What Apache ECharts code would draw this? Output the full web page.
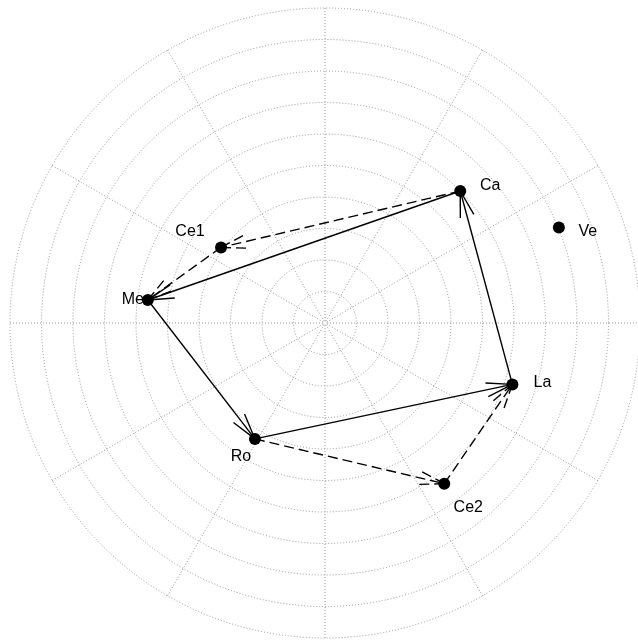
<!DOCTYPE html>
<html>
<head>
<meta charset="utf-8">
<title>Route map</title>
<script src="https://cdn.jsdelivr.net/npm/echarts/dist/echarts.min.js"></script>
<style>
  html, body { margin: 0; padding: 0; background: #ffffff; }
  #chart { width: 638px; height: 640px; }
</style>
</head>
<body>
<div id="chart"></div>
<script>
// Places and their positions (grid units, one unit per ring)
const places = ['Ca', 'Ve', 'Ce1', 'Me', 'La', 'Ro', 'Ce2'];
const xValues = [4.34, 7.48, -3.28, -5.61, 6.00, -2.20, 3.83];
const yValues = [4.19, 3.03, 2.40, 0.73, -1.95, -3.68, -5.10];

// Legs of the tour: solid main loop, dashed detours
const solidLegs = [['Me', 'Ro'], ['Ro', 'La'], ['La', 'Ca'], ['Ca', 'Me']];
const dashedLegs = [['Ca', 'Ce1'], ['Ce1', 'Me'], ['Ro', 'Ce2'], ['Ce2', 'La']];

// Polar grid: rings and spokes
const ringCount = 10;
const spokeStep = 30;

// Label placement around each dot (px from the dot centre)
const labelOffsets = {
  Ca: [30, -5], Ve: [29, 4], Ce1: [-31, -16], Me: [-15, 0],
  La: [30, -2], Ro: [-14, 18], Ce2: [24, 24]
};

const HEAD_LEN = 27;
const HEAD_ANGLE = 15 * Math.PI / 180;

function pointOf(name) {
  const i = places.indexOf(name);
  return [xValues[i], yValues[i]];
}

const legRows = []
  .concat(solidLegs.map(l => pointOf(l[0]).concat(pointOf(l[1]), [0])))
  .concat(dashedLegs.map(l => pointOf(l[0]).concat(pointOf(l[1]), [1])));

// Straight leg with an open two-barb head at the destination
function renderArrow(params, api) {
  const a = api.coord([api.value(0), api.value(1)]);
  const b = api.coord([api.value(2), api.value(3)]);
  const dashed = api.value(4) === 1;
  const ang = Math.atan2(a[1] - b[1], a[0] - b[0]);
  const style = {
    stroke: '#000',
    fill: null,
    lineWidth: 1.4,
    lineDash: dashed ? [10, 5] : null
  };
  const barb = s => ({
    type: 'line',
    shape: {
      x1: b[0], y1: b[1],
      x2: b[0] + HEAD_LEN * Math.cos(ang + s * HEAD_ANGLE),
      y2: b[1] + HEAD_LEN * Math.sin(ang + s * HEAD_ANGLE)
    },
    style: style
  });
  return {
    type: 'group',
    children: [
      { type: 'line', shape: { x1: a[0], y1: a[1], x2: b[0], y2: b[1] }, style: style },
      barb(1),
      barb(-1)
    ]
  };
}

const gridLine = { color: '#9a9a9a', width: 1, type: [1, 2] };

const chart = echarts.init(document.getElementById('chart'), null, { renderer: 'canvas' });
chart.setOption({
  backgroundColor: '#ffffff',
  animation: false,
  polar: { center: [325, 323], radius: 315 },
  angleAxis: {
    type: 'value', min: 0, max: 360, interval: spokeStep, startAngle: 0,
    axisLine: { show: false }, axisTick: { show: false }, axisLabel: { show: false },
    splitLine: { show: true, lineStyle: gridLine }
  },
  radiusAxis: {
    type: 'value', min: 0, max: ringCount, interval: 1,
    axisLine: { show: false }, axisTick: { show: false }, axisLabel: { show: false },
    splitLine: { show: true, lineStyle: gridLine }
  },
  grid: { left: 10, top: 8, width: 630, height: 630 },
  xAxis: { type: 'value', min: -ringCount, max: ringCount, show: false },
  yAxis: { type: 'value', min: -ringCount, max: ringCount, show: false },
  series: [
    {
      type: 'custom',
      coordinateSystem: 'cartesian2d',
      renderItem: renderArrow,
      data: legRows,
      clip: false,
      silent: true,
      z: 3
    },
    {
      type: 'scatter',
      coordinateSystem: 'cartesian2d',
      symbol: 'circle',
      symbolSize: 12,
      itemStyle: { color: '#000', opacity: 1 },
      z: 5,
      data: places.map((name, i) => ({
        name: name,
        value: [xValues[i], yValues[i]],
        label: {
          show: true,
          position: 'inside',
          offset: labelOffsets[name],
          formatter: '{b}',
          color: '#000',
          opacity: 1,
          fontSize: 16,
          fontFamily: 'Liberation Sans, Arial, Helvetica, sans-serif'
        }
      }))
    }
  ]
});
</script>
</body>
</html>
